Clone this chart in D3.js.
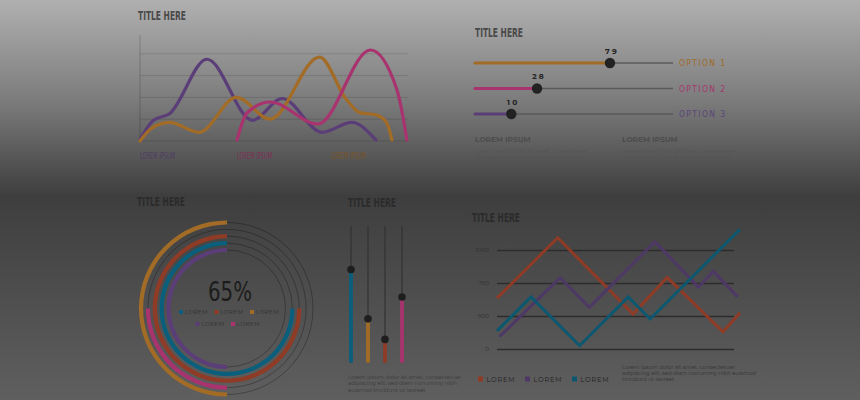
<!DOCTYPE html>
<html>
<head>
<meta charset="utf-8">
<script src="https://cdn.jsdelivr.net/npm/d3@7"></script>
<style>
  html, body { margin: 0; padding: 0; }
  svg { display: block; }
</style>
</head>
<body>
<svg id="chart"></svg>
<script>
// ---- data ----
const colors = {
  orange: "#a36c26", pink: "#a8336f", red: "#8f3b25",
  teal: "#0a5f7c", purple: "#5b3e78", purpleDark: "#4e3866", tealDark: "#0b5870"
};

// wave chart (top left)
const waveNames = ["LOREM IPSUM", "LOREM IPSUM", "LOREM IPSUM"];
const wavePurpleX = [0, 5, 11, 25, 42, 53, 68, 79, 88];
const wavePurpleY = [1, 19, 25, 75, 19, 39, 8, 17, 1];
const waveOrangeX = [0, 4, 11, 22, 36, 48.5, 67, 77, 82, 88, 92, 94];
const waveOrangeY = [0, 11, 17, 8, 40, 20, 77, 38, 26, 24, 17, 1];
const wavePinkX = [36.2, 39.9, 48.5, 66.4, 86, 95.9, 99.6];
const wavePinkY = [1, 25.7, 35.8, 15.6, 83.5, 46.8, 1];
const waveGrid = [20, 40, 60, 80];

// horizontal sliders (top right)
const optionLabels = ["OPTION 1", "OPTION 2", "OPTION 3"];
const optionValues = [79, 28, 10];

// rings (bottom left)
const ringLabels = ["LOREM", "LOREM", "LOREM", "LOREM", "LOREM"];
const ringStart = [50, 50, 25, 25, 50];   // percent of the circle
const ringEnd = [100, 75, 100, 100, 100];
const ringTotal = "65%";

// vertical sliders
const barNames = ["A", "B", "C", "D"];
const barValues = [68, 32, 17, 48];

// line chart (bottom right)
const lineTicks = ["0", "500", "750", "1000"];
const redX = [0, 25, 56, 70, 93, 100];
const redY = [1.54, 3.37, 1.06, 2.17, 0.52, 1.10];
const purpleX = [1, 26, 38, 65, 83, 89, 99];
const purpleY = [0.37, 2.16, 1.26, 3.25, 1.87, 2.36, 1.58];
const tealX = [0, 14, 34, 54, 63, 100];
const tealY = [0.55, 1.58, 0.10, 1.58, 0.91, 3.63];
const lineLegend = ["LOREM", "LOREM", "LOREM"];

const loremA = ["Lorem ipsum dolor sit amet, consectetuer", "adipiscing elit, sed diam nonummy nibh", "euismod tincidunt ut laoreet"];
const loremB = ["Lorem ipsum dolor sit amet, consectetuer", "adipiscing elit, sed diam nonummy nibh euismod", "tincidunt ut laoreet"];

// ---- setup ----
const width = 860, height = 400;
const svg = d3.select("#chart").attr("width", width).attr("height", height);
const condensed = "'DejaVu Sans Condensed', 'Liberation Sans Narrow', sans-serif";
const sans = "Montserrat, 'Open Sans', 'DejaVu Sans', sans-serif";

const grad = svg.append("defs").append("linearGradient")
  .attr("id", "bg").attr("x1", 0).attr("y1", 0).attr("x2", 0).attr("y2", 1);
[[0, "#b0b0b0"], [0.25, "#7c7c7c"], [0.49, "#3e3e3e"], [1, "#5f5f5f"]].forEach(s =>
  grad.append("stop").attr("offset", s[0]).attr("stop-color", s[1]));
svg.append("rect").attr("width", width).attr("height", height).attr("fill", "url(#bg)");

function title(x, y, fill) {
  svg.append("text").attr("x", x).attr("y", y)
    .attr("font-family", condensed).attr("font-size", 12).attr("font-weight", "bold")
    .attr("textLength", 48).attr("lengthAdjust", "spacingAndGlyphs")
    .attr("fill", fill).text("TITLE HERE");
}

function paragraph(lines, x, y, fill) {
  svg.append("g").selectAll("text").data(lines).enter().append("text")
    .attr("x", x).attr("y", (d, i) => y + i * 6.4)
    .attr("font-family", sans).attr("font-size", 5.4)
    .attr("fill", fill).text(d => d);
}

// ---- wave chart ----
title(138, 19.5, "#4a4a4a");
const wx = d3.scaleLinear().domain([0, 100]).range([140, 408]);
const wy = d3.scaleLinear().domain([0, 100]).range([141, 32]);

svg.append("g").selectAll("line").data(waveGrid).enter().append("line")
  .attr("x1", wx(0)).attr("x2", wx(100))
  .attr("y1", d => wy(d)).attr("y2", d => wy(d))
  .attr("stroke", "#000").attr("stroke-opacity", 0.12).attr("stroke-width", 1);
svg.append("line").attr("x1", wx(0)).attr("x2", wx(0)).attr("y1", wy(0)).attr("y2", wy(97))
  .attr("stroke", "#000").attr("stroke-opacity", 0.18);
svg.append("line").attr("x1", wx(0)).attr("x2", wx(100)).attr("y1", wy(0)).attr("y2", wy(0))
  .attr("stroke", "#000").attr("stroke-opacity", 0.12);

const wave = d3.line().x(d => wx(d[0])).y(d => wy(d[1])).curve(d3.curveMonotoneX);
const waves = [
  { x: wavePurpleX, y: wavePurpleY, c: colors.purple },
  { x: waveOrangeX, y: waveOrangeY, c: colors.orange },
  { x: wavePinkX, y: wavePinkY, c: colors.pink }
];
svg.append("g").selectAll("path").data(waves).enter().append("path")
  .attr("d", d => wave(d.x.map((v, i) => [v, d.y[i]])))
  .attr("fill", "none").attr("stroke", d => d.c)
  .attr("stroke-width", 3.2).attr("stroke-linecap", "round");

const waveLabelColors = ["#4e3a63", "#7f2f55", "#7a5524"];
svg.append("g").selectAll("text").data(waveNames).enter().append("text")
  .attr("x", (d, i) => [140, 237, 331][i]).attr("y", 158.5)
  .attr("font-family", condensed).attr("font-size", 9)
  .attr("textLength", 35).attr("lengthAdjust", "spacingAndGlyphs")
  .attr("fill", (d, i) => waveLabelColors[i]).text(d => d);

// ---- horizontal sliders ----
title(475, 36.5, "#4a4a4a");
const sx = d3.scaleLinear().domain([0, 100]).range([497, 640]);
const sy = d3.scalePoint().domain(optionLabels).range([63, 114]);
const sliderColors = [colors.orange, colors.pink, colors.purple];
const optColors = ["#a06a28", "#a3376d", "#5a4578"];
const sg = svg.append("g").selectAll("g").data(optionLabels).enter().append("g");
sg.append("line").attr("x1", 475).attr("x2", 673)
  .attr("y1", d => sy(d)).attr("y2", d => sy(d))
  .attr("stroke", "#5a5a5a").attr("stroke-width", 1.3);
sg.append("line").attr("x1", 475).attr("x2", (d, i) => sx(optionValues[i]))
  .attr("y1", d => sy(d)).attr("y2", d => sy(d))
  .attr("stroke", (d, i) => sliderColors[i]).attr("stroke-width", 3.2).attr("stroke-linecap", "round");
sg.append("circle").attr("cx", (d, i) => sx(optionValues[i])).attr("cy", d => sy(d))
  .attr("r", 5.2).attr("fill", "#222");
sg.append("text").attr("x", (d, i) => sx(optionValues[i]) + 2).attr("y", d => sy(d) - 9.5)
  .attr("text-anchor", "middle").attr("font-family", sans).attr("font-size", 7.5)
  .attr("font-weight", "bold").attr("letter-spacing", 2.2).attr("fill", "#222")
  .text((d, i) => optionValues[i]);
sg.append("text").attr("x", 679).attr("y", d => sy(d) + 3.2)
  .attr("font-family", condensed).attr("font-size", 8.5)
  .attr("textLength", 46).attr("lengthAdjust", "spacing")
  .attr("fill", (d, i) => optColors[i]).text(d => d);

[475, 622].forEach(x => {
  svg.append("text").attr("x", x).attr("y", 141.5)
    .attr("font-family", sans).attr("font-size", 7.4).attr("font-weight", "bold")
    .attr("fill", "#4d4d4d").text("LOREM IPSUM");
  paragraph(loremA, x, 152.5, "#545454");
});

// ---- rings ----
title(137, 205.5, "#2b2b2b");
const cx = 227, cy = 308.5;
const rr = d3.scaleLinear().domain([0, 4]).range([86, 58.5]);
const ringColors = [colors.orange, colors.pink, colors.red, colors.teal, colors.purple];
const ang = d3.scaleLinear().domain([0, 100]).range([0, 2 * Math.PI]);
const rg = svg.append("g").attr("transform", `translate(${cx},${cy})`);
rg.selectAll("circle").data(ringColors).enter().append("circle")
  .attr("r", (d, i) => rr(i)).attr("fill", "none")
  .attr("stroke", "#000").attr("stroke-opacity", 0.28).attr("stroke-width", 1);
rg.selectAll("path").data(ringColors).enter().append("path")
  .attr("d", (d, i) => d3.arc()({
    innerRadius: rr(i) - 2.1, outerRadius: rr(i) + 2.1,
    startAngle: ang(ringStart[i]), endAngle: ang(ringEnd[i])
  }))
  .attr("fill", d => d);

svg.append("text").attr("x", 230).attr("y", 300.5).attr("text-anchor", "middle")
  .attr("font-family", condensed).attr("font-size", 27)
  .attr("textLength", 44).attr("lengthAdjust", "spacingAndGlyphs")
  .attr("fill", "#1c1c1c").text(ringTotal);

const legendOrder = [3, 2, 0, 4, 1]; // teal, red, orange / purple, pink
const legPos = [[181, 312], [216.5, 312], [252, 312], [197.5, 324], [233, 324]];
const lg = svg.append("g").selectAll("g").data(legendOrder).enter().append("g")
  .attr("transform", (d, i) => `translate(${legPos[i][0]},${legPos[i][1]})`);
lg.append("rect").attr("x", -2).attr("y", -2).attr("width", 4).attr("height", 4)
  .attr("fill", d => ringColors[d]);
lg.append("text").attr("x", 4).attr("y", 2).attr("font-family", sans).attr("font-size", 5.4)
  .attr("letter-spacing", 0.5).attr("fill", "#2e2e2e").text(d => ringLabels[d]);

// ---- vertical sliders ----
title(348, 206.5, "#2b2b2b");
const vx = d3.scalePoint().domain(barNames).range([351, 402]);
const vy = d3.scaleLinear().domain([0, 100]).range([362.7, 225.7]);
const barColors = [colors.teal, colors.orange, colors.red, colors.pink];
const vg = svg.append("g").selectAll("g").data(barNames).enter().append("g");
vg.append("line").attr("x1", d => vx(d)).attr("x2", d => vx(d))
  .attr("y1", vy(0)).attr("y2", vy(100)).attr("stroke", "#333").attr("stroke-width", 1.2);
vg.append("line").attr("x1", d => vx(d)).attr("x2", d => vx(d))
  .attr("y1", vy(0)).attr("y2", (d, i) => vy(barValues[i]))
  .attr("stroke", (d, i) => barColors[i]).attr("stroke-width", 3.8);
vg.append("circle").attr("cx", d => vx(d)).attr("cy", (d, i) => vy(barValues[i]))
  .attr("r", 3.8).attr("fill", "#1e1e1e");
paragraph(loremA, 348, 379, "#3a3a3a");

// ---- line chart ----
title(472, 221.5, "#2b2b2b");
const lx = d3.scaleLinear().domain([0, 100]).range([497, 740]);
const ly = d3.scaleLinear().domain([0, 3]).range([349, 250]);
const yAxis = d3.axisLeft(ly).tickValues([0, 1, 2, 3]).tickFormat(d => lineTicks[d])
  .tickSize(-(lx(97.5) - lx(0))).tickPadding(8);
const ya = svg.append("g").attr("transform", `translate(${lx(0)},0)`).call(yAxis);
ya.select(".domain").remove();
ya.selectAll("line").attr("stroke", "#2c2c2c").attr("stroke-width", 1.4);
ya.selectAll("text").attr("font-family", sans).attr("font-size", 6).attr("fill", "#2e2e2e");

const zig = d3.line().x(d => lx(d[0])).y(d => ly(d[1]));
const lines = [
  { x: redX, y: redY, c: colors.red },
  { x: purpleX, y: purpleY, c: colors.purpleDark },
  { x: tealX, y: tealY, c: colors.tealDark }
];
svg.append("g").selectAll("path").data(lines).enter().append("path")
  .attr("d", d => zig(d.x.map((v, i) => [v, d.y[i]])))
  .attr("fill", "none").attr("stroke", d => d.c).attr("stroke-width", 3);

const lineColors = [colors.red, colors.purpleDark, colors.tealDark];
const llg = svg.append("g").selectAll("g").data(lineLegend).enter().append("g")
  .attr("transform", (d, i) => `translate(${480.5 + i * 47},379)`);
llg.append("rect").attr("x", -2.5).attr("y", -2.5).attr("width", 5).attr("height", 5)
  .attr("fill", (d, i) => lineColors[i]);
llg.append("text").attr("x", 6).attr("y", 2.5).attr("font-family", sans).attr("font-size", 6.6)
  .attr("letter-spacing", 0.8).attr("fill", "#1e1e1e").text(d => d);
paragraph(loremB, 622, 368.5, "#333");
</script>
</body>
</html>
